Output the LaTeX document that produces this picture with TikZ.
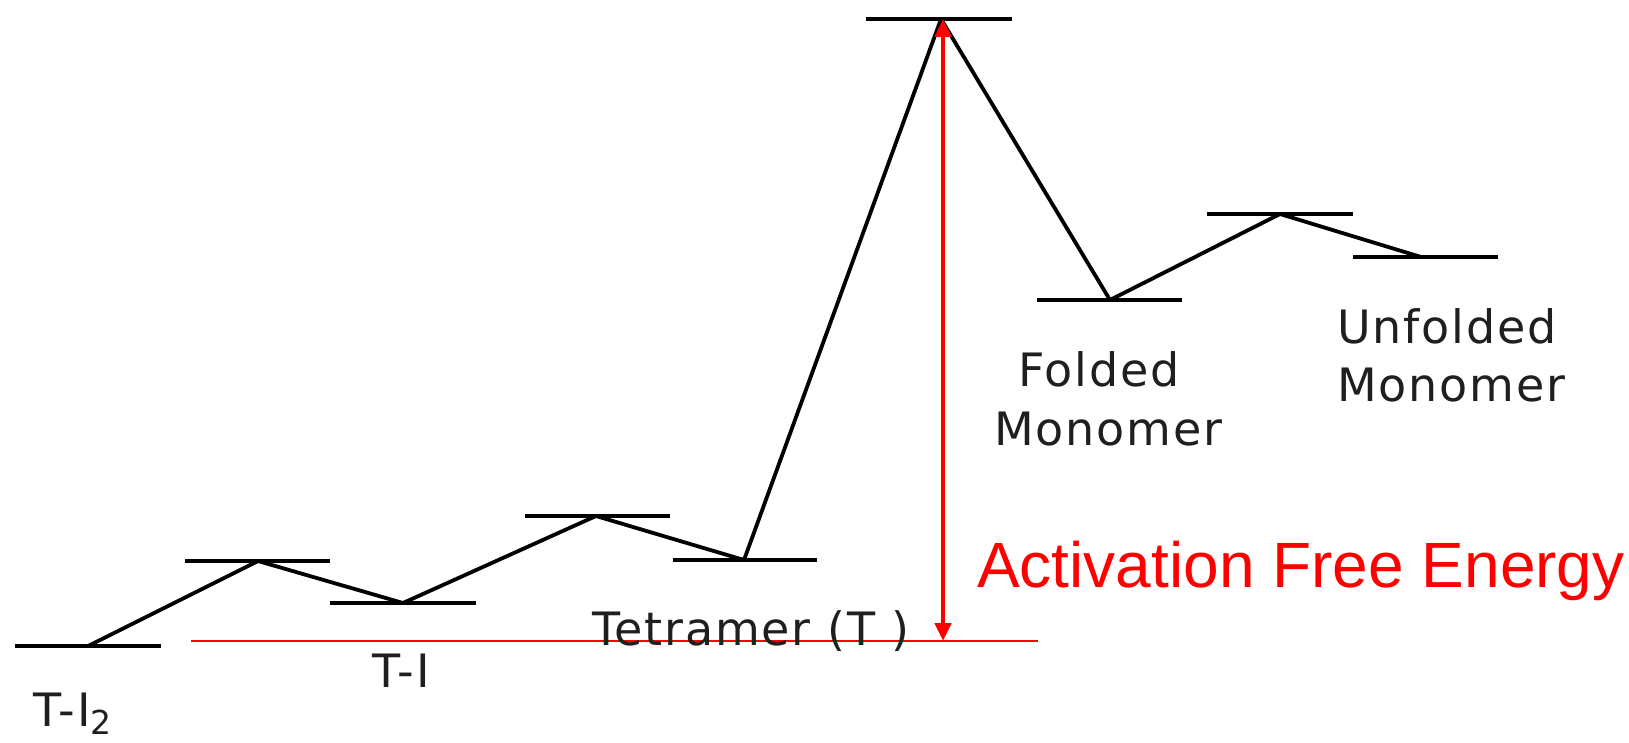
\documentclass[tikz,border=0pt]{standalone}
\usepackage{fontspec}
\setmainfont{DejaVu Sans}
\newfontfamily\lblfont[LetterSpace=4]{DejaVu Sans}
\newfontfamily\redfont{Liberation Sans}
\usetikzlibrary{arrows.meta}
\tikzset{
  level/.style={line width=4.2pt, black},
  path/.style={line width=3.8pt, black, line join=round},
  lbl/.style={anchor=base west, inner sep=0pt, font=\lblfont\fontsize{46}{50}\selectfont, text=black!88},
  redlbl/.style={anchor=base west, inner sep=0pt, font=\redfont\fontsize{64}{70}\selectfont, text=red},
  baseline/.style={line width=1.5pt, red},
  actarrow/.style={line width=4.5pt, red, {Triangle[length=18pt,width=16pt]}-{Triangle[length=18pt,width=16pt]}}
}
\begin{document}
\begin{tikzpicture}[x=1pt,y=-1pt]
\useasboundingbox (0,0) rectangle (1629,743);
% levels
\draw[level] (15,646) -- (161,646);
\draw[level] (185,561) -- (330,561);
\draw[level] (330,603) -- (476,603);
\draw[level] (525,516) -- (670,516);
\draw[level] (673,560) -- (817,560);
\draw[level] (866,19) -- (1012,19);
\draw[level] (1037,300) -- (1182,300);
\draw[level] (1207,214) -- (1353,214);
\draw[level] (1353,257) -- (1498,257);
% junction coordinates
\coordinate (a) at (88,646);
\coordinate (b) at (258,561);
\coordinate (c) at (403,603);
\coordinate (d) at (596,516);
\coordinate (e) at (744,560);
\coordinate (f) at (941,19);
\coordinate (g) at (1110,300);
\coordinate (h) at (1280,214);
\coordinate (i) at (1421,257);
\draw[path] (a) -- (b) -- (c) -- (d) -- (e) -- (f) -- (g) -- (h) -- (i);
% reference line and arrow
\coordinate (rl) at (191,641);
\coordinate (rr) at (1038,641);
\draw[baseline] (rl) -- (rr);
\coordinate (atop) at (943,19);
\coordinate (abot) at (943,641);
\draw[actarrow] (abot) -- (atop);
% labels
\node[lbl] (ti2) at (33,726) {T-I\raisebox{-8pt}{\fontsize{33}{33}\selectfont 2}};
\node[lbl] (ti) at (372,687) {T-I};
\node[lbl] (tet) at (592,645) {Tetramer (T )};
\node[lbl] (fold1) at (1018,386) {Folded};
\node[lbl] (fold2) at (994,445) {Monomer};
\node[lbl] (unf1) at (1337,343) {Unfolded};
\node[lbl] (unf2) at (1337,401) {Monomer};
\node[redlbl] (afe) at (977,587) {Activation Free Energy};
\end{tikzpicture}
\end{document}
